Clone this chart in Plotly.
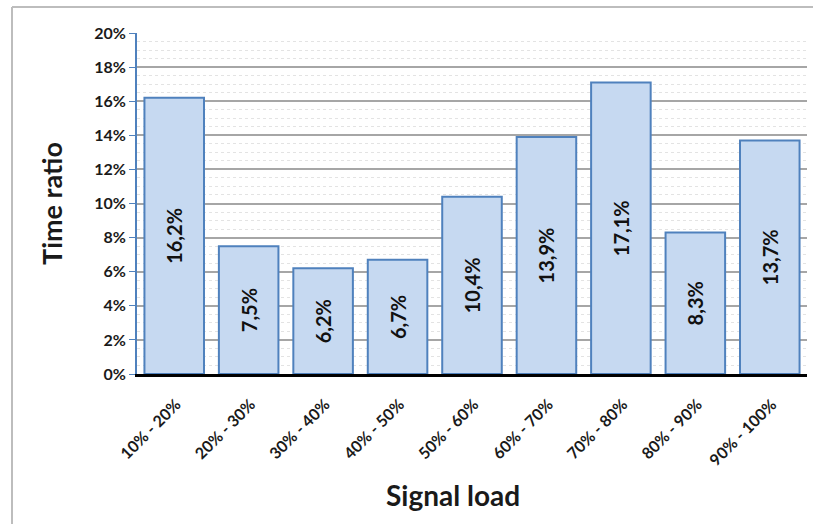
import plotly.graph_objects as go

# Share of time spent in each signal-load band
categories = ["10% - 20%", "20% - 30%", "30% - 40%", "40% - 50%", "50% - 60%",
              "60% - 70%", "70% - 80%", "80% - 90%", "90% - 100%"]
time_ratio = [0.162, 0.075, 0.062, 0.067, 0.104, 0.139, 0.171, 0.083, 0.137]
y_ticks = [0, 0.02, 0.04, 0.06, 0.08, 0.10, 0.12, 0.14, 0.16, 0.18, 0.20]

W, H = 813, 524
L, R, T, B = 137, 6, 33, 150
plot_w, plot_h = W - L - R, H - T - B
FONT = "Lato, Open Sans, sans-serif"

fig = go.Figure(go.Bar(
    x=categories,
    y=time_ratio,
    marker=dict(color="#c6d9f1", line=dict(color="#4f81bd", width=2)),
    texttemplate="<b>%{y:.1%}</b>",
    textposition="inside",
    insidetextanchor="middle",
    textangle=-90,
    textfont=dict(family=FONT, size=20, color="#111111"),
    hoverinfo="skip",
))

def px_to_paper_x(px):
    return (px - L) / plot_w

def px_to_paper_y(py):
    return (H - B - py) / plot_h

border = dict(color="#bdbdbd", width=2)
fig.add_shape(type="line", xref="paper", yref="paper",
              x0=px_to_paper_x(12), x1=px_to_paper_x(12),
              y0=px_to_paper_y(7), y1=px_to_paper_y(530), line=border)
fig.add_shape(type="line", xref="paper", yref="paper",
              x0=px_to_paper_x(12), x1=px_to_paper_x(830),
              y0=px_to_paper_y(7), y1=px_to_paper_y(7), line=border)

# x-axis title, placed slightly left of the plot centre
fig.add_annotation(text="<b>Signal load</b>", xref="paper", yref="paper",
                   x=px_to_paper_x(453), y=px_to_paper_y(495),
                   showarrow=False, xanchor="center", yanchor="middle",
                   font=dict(family=FONT, size=28, color="#1a1a1a"))

fig.update_layout(
    width=W, height=H,
    margin=dict(l=L, r=R, t=T, b=B),
    paper_bgcolor="white",
    plot_bgcolor="white",
    separators=",.",
    bargap=0.2,
    showlegend=False,
    font=dict(family=FONT, color="#1a1a1a"),
    xaxis=dict(
        tickangle=-45,
        tickfont=dict(size=16, family=FONT, weight="bold", color="#1a1a1a"),
        ticklabelstandoff=12,
        ticklabelshift=2,
        showline=True, linecolor="#000000", linewidth=3,
        ticks="", showgrid=False,
    ),
    yaxis=dict(
        range=[0, 0.2],
        tickvals=y_ticks,
        tickformat=".0%",
        tickfont=dict(size=16, family=FONT, weight="bold", color="#1a1a1a"),
        showline=True, linecolor="#4f81bd", linewidth=2,
        ticks="outside", ticklen=6, tickcolor="#4f81bd", tickwidth=1,
        showgrid=True, gridcolor="#a6a6a6", gridwidth=2,
        minor=dict(dtick=0.005, showgrid=True, gridcolor="#e3e3e3",
                   griddash="dot", gridwidth=1),
        zeroline=False,
        title=dict(text="<b>Time ratio</b>", font=dict(size=27), standoff=24),
    ),
)

fig.write_html("out.html")
